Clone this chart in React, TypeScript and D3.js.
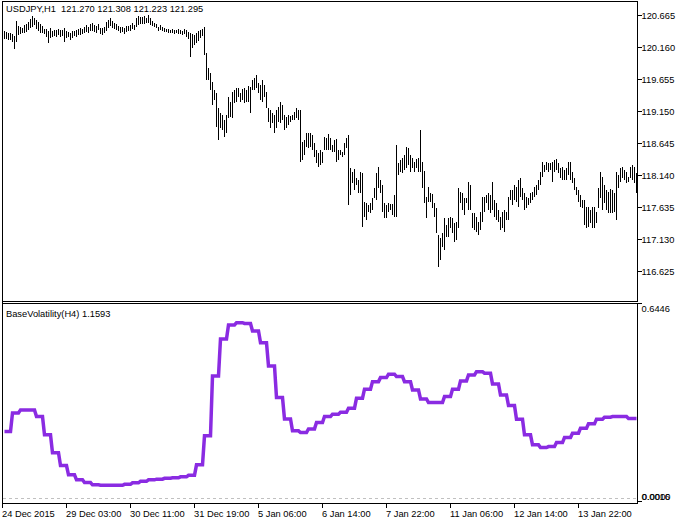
import * as d3 from "d3";

const W = 689;
const H = 523;
const PLOT = { left: 2, right: 637, top: 1, priceBottom: 301, volTop: 303, volBottom: 503 };

const SYMBOL_LABEL = "USDJPY,H1  121.270 121.308 121.223 121.295";
const INDICATOR_LABEL = "BaseVolatility(H4) 1.1593";

// H1 bar highs / lows
const HIGH = [
  120.41, 120.40, 120.38, 120.38, 120.37, 120.33, 120.57, 120.49, 120.48, 120.46,
  120.51, 120.52, 120.55, 120.60, 120.65, 120.62, 120.59, 120.55, 120.52, 120.49,
  120.44, 120.44, 120.41, 120.46, 120.41, 120.43, 120.43, 120.44, 120.43, 120.43,
  120.46, 120.41, 120.40, 120.38, 120.41, 120.41, 120.43, 120.44, 120.46, 120.44,
  120.48, 120.51, 120.48, 120.52, 120.54, 120.51, 120.49, 120.52, 120.46, 120.46,
  120.48, 120.55, 120.59, 120.62, 120.57, 120.54, 120.52, 120.49, 120.48, 120.48,
  120.46, 120.49, 120.49, 120.51, 120.54, 120.51, 120.62, 120.65, 120.63, 120.63,
  120.65, 120.62, 120.66, 120.62, 120.57, 120.54, 120.52, 120.48, 120.51, 120.48,
  120.46, 120.44, 120.44, 120.43, 120.44, 120.43, 120.43, 120.44, 120.43, 120.41,
  120.44, 120.43, 120.40, 120.38, 120.37, 120.35, 120.38, 120.41, 120.43, 120.44,
  120.48, 120.07, 119.83, 119.75, 119.61, 119.48, 119.43, 119.20, 119.12, 119.09,
  119.01, 119.09, 119.37, 119.29, 119.45, 119.48, 119.51, 119.51, 119.43, 119.50,
  119.51, 119.48, 119.55, 119.53, 119.64, 119.67, 119.72, 119.59, 119.56, 119.64,
  119.56, 119.45, 119.20, 119.17, 119.12, 119.09, 119.17, 119.21, 119.29, 119.25,
  119.09, 119.06, 119.09, 119.07, 119.09, 119.13, 119.20, 119.17, 119.17, 118.66,
  118.69, 118.80, 118.80, 118.80, 118.77, 118.65, 118.54, 118.49, 118.54, 118.50,
  118.74, 118.72, 118.79, 118.72, 118.61, 118.69, 118.71, 118.54, 118.54, 118.50,
  118.65, 118.72, 118.77, 118.25, 118.19, 118.24, 118.09, 118.06, 118.19, 118.17,
  117.71, 117.70, 117.67, 117.70, 117.78, 117.94, 118.17, 118.27, 118.06, 117.98,
  117.70, 117.67, 117.70, 117.68, 117.68, 117.83, 118.61, 118.33, 118.38, 118.41,
  118.46, 118.58, 118.57, 118.46, 118.41, 118.35, 118.39, 118.41, 118.85, 118.35,
  118.20, 117.79, 117.95, 117.86, 117.84, 117.70, 117.62, 117.19, 117.15, 117.23,
  117.46, 117.35, 117.46, 117.48, 117.46, 117.38, 117.40, 117.94, 117.87, 117.86,
  117.78, 117.78, 118.03, 117.98, 117.54, 117.54, 117.48, 117.40, 117.56, 117.79,
  117.79, 117.83, 117.86, 117.83, 118.03, 117.75, 117.70, 117.59, 117.48, 117.56,
  117.59, 117.56, 117.79, 117.90, 117.90, 117.98, 117.95, 118.06, 118.09, 117.94,
  117.86, 117.79, 117.78, 117.86, 117.87, 117.95, 117.98, 118.06, 118.19, 118.35,
  118.30, 118.35, 118.33, 118.33, 118.35, 118.38, 118.39, 118.33, 118.25, 118.27,
  118.22, 118.25, 118.35, 118.35, 118.19, 118.09, 117.95, 117.90, 117.83, 117.75,
  117.75, 117.64, 117.64, 117.59, 117.64, 117.64, 117.56, 117.94, 118.19, 118.11,
  117.98, 117.90, 117.87, 117.92, 117.90, 117.86, 118.19, 118.14, 118.25, 118.27,
  118.22, 118.19, 118.11, 118.27, 118.30, 118.27, 118.17,
];

const LOW = [
  120.29, 120.29, 120.27, 120.27, 120.24, 120.13, 120.24, 120.35, 120.37, 120.38,
  120.38, 120.40, 120.43, 120.46, 120.48, 120.51, 120.44, 120.41, 120.38, 120.38,
  120.37, 120.32, 120.22, 120.30, 120.32, 120.33, 120.32, 120.35, 120.32, 120.33,
  120.24, 120.30, 120.32, 120.27, 120.30, 120.33, 120.32, 120.35, 120.35, 120.37,
  120.38, 120.40, 120.38, 120.41, 120.41, 120.40, 120.38, 120.43, 120.37, 120.35,
  120.38, 120.41, 120.46, 120.49, 120.46, 120.44, 120.43, 120.41, 120.38, 120.40,
  120.37, 120.40, 120.41, 120.41, 120.44, 120.43, 120.48, 120.51, 120.52, 120.52,
  120.52, 120.54, 120.54, 120.51, 120.49, 120.48, 120.46, 120.41, 120.43, 120.41,
  120.40, 120.40, 120.38, 120.38, 120.38, 120.37, 120.38, 120.37, 120.37, 120.35,
  120.37, 120.32, 120.29, 120.00, 120.14, 120.19, 120.22, 120.26, 120.30, 120.33,
  120.03, 119.64, 119.64, 119.48, 119.25, 119.32, 118.90, 118.69, 118.88, 118.85,
  118.74, 118.80, 119.04, 119.06, 119.04, 119.28, 119.29, 119.37, 119.29, 119.32,
  119.28, 119.29, 119.29, 119.12, 119.48, 119.48, 119.51, 119.43, 119.32, 119.29,
  119.37, 119.20, 118.98, 118.88, 118.96, 118.80, 118.88, 118.98, 118.96, 119.01,
  118.85, 118.88, 118.93, 118.98, 119.01, 119.01, 119.04, 119.01, 118.35, 118.38,
  118.46, 118.58, 118.57, 118.58, 118.54, 118.42, 118.33, 118.27, 118.30, 118.33,
  118.54, 118.54, 118.54, 118.54, 118.50, 118.50, 118.35, 118.38, 118.46, 118.42,
  118.46, 118.57, 117.67, 117.83, 118.01, 117.90, 117.98, 117.86, 117.86, 117.32,
  117.48, 117.43, 117.56, 117.54, 117.59, 117.78, 117.75, 117.94, 117.86, 117.56,
  117.46, 117.46, 117.56, 117.59, 117.51, 117.48, 117.48, 118.14, 118.19, 118.17,
  118.22, 118.25, 118.30, 118.19, 118.25, 118.19, 118.25, 118.19, 118.19, 117.94,
  117.70, 117.46, 117.71, 117.71, 117.62, 117.48, 117.23, 116.69, 116.80, 117.00,
  116.96, 117.16, 117.16, 117.30, 117.23, 117.08, 117.12, 117.30, 117.70, 117.59,
  117.51, 117.70, 117.59, 117.59, 117.30, 117.27, 117.24, 117.19, 117.27, 117.40,
  117.56, 117.70, 117.59, 117.54, 117.59, 117.48, 117.43, 117.40, 117.27, 117.30,
  117.24, 117.43, 117.43, 117.75, 117.67, 117.75, 117.71, 117.64, 117.79, 117.75,
  117.59, 117.62, 117.67, 117.70, 117.75, 117.79, 117.83, 117.90, 117.98, 118.11,
  118.19, 118.22, 118.19, 118.22, 118.03, 118.19, 118.22, 118.17, 118.09, 118.06,
  118.06, 118.06, 118.14, 118.06, 118.01, 117.90, 117.83, 117.71, 117.64, 117.62,
  117.35, 117.30, 117.32, 117.38, 117.30, 117.30, 117.38, 117.62, 117.78, 117.59,
  117.70, 117.59, 117.54, 117.54, 117.54, 117.56, 117.43, 117.94, 118.03, 118.09,
  118.06, 118.01, 118.03, 118.09, 118.06, 118.01, 117.86,
];

// H4 volatility, one value per 4 H1 bars
const VOL_H4 = [
  0.2196, 0.2819, 0.2919, 0.2919, 0.2696, 0.2087, 0.1488, 0.1065, 0.0755, 0.0589,
  0.0499, 0.0423, 0.0406, 0.0406, 0.0406, 0.0439, 0.0489, 0.0539, 0.0589, 0.0612,
  0.0639, 0.0656, 0.0689, 0.0739, 0.1088, 0.2053, 0.4050, 0.5282, 0.5747, 0.5824,
  0.5797, 0.5548, 0.5158, 0.4383, 0.3328, 0.2619, 0.2220, 0.2163, 0.2286, 0.2496,
  0.2696, 0.2776, 0.2842, 0.2975, 0.3308, 0.3608, 0.3860, 0.3994, 0.4107, 0.4027,
  0.3860, 0.3584, 0.3285, 0.3162, 0.3162, 0.3361, 0.3608, 0.3884, 0.4083, 0.4193,
  0.4140, 0.3784, 0.3418, 0.3062, 0.2609, 0.2087, 0.1754, 0.1664, 0.1697, 0.1830,
  0.1997, 0.2143, 0.2310, 0.2453, 0.2609, 0.2676, 0.2696, 0.2696, 0.2629, 0.2629,
];

const PRICE_TICKS = ["120.665", "120.160", "119.655", "119.150", "118.645", "118.140", "117.635", "117.130", "116.625"];
const VOL_MAX_LABEL = "0.6446";
const VOL_MIN_LABELS = ["0.0016", "0.0000"];

const TIME_LABELS = [
  "24 Dec 2015", "29 Dec 03:00", "30 Dec 11:00", "31 Dec 19:00", "5 Jan 06:00",
  "6 Jan 14:00", "7 Jan 22:00", "11 Jan 06:00", "12 Jan 14:00", "13 Jan 22:00",
];
const TIME_LABEL_BARS = [-1, 31, 63, 95, 127, 159, 191, 223, 255, 287];

const FONT = "'Liberation Sans', Arial, sans-serif";
const PURPLE = "#8a2be2";

export default function App() {
  const x = d3.scaleLinear().domain([0, HIGH.length - 1]).range([4, 4 + 2 * (HIGH.length - 1)]);
  const y = d3.scaleLinear().domain([116.625, 120.665]).range([271, 15]);
  const v = d3.scaleLinear().domain([0, 0.6446]).range([497.5, 304]);

  const volBars = HIGH.map((_, i) => VOL_H4[Math.floor(i / 4)]);
  const volLine = d3
    .line<number>()
    .x((_, i) => x(i) + 0.5)
    .y((d) => v(d))
    .curve(d3.curveLinear);

  const R = PLOT.right + 0.5;
  const L = PLOT.left + 0.5;

  return (
    <div style={{ position: "fixed", left: 0, top: 0, width: W, height: H, background: "#fff" }}>
      <svg width={W} height={H} style={{ display: "block" }} fontFamily={FONT} fontSize={9.3}>
        <rect x={0} y={0} width={W} height={H} fill="#fff" />

        {/* frames */}
        <g stroke="#000" strokeWidth={1} shapeRendering="crispEdges">
          <line x1={L} x2={R} y1={PLOT.top + 0.5} y2={PLOT.top + 0.5} />
          <line x1={L} x2={L} y1={PLOT.top} y2={PLOT.volBottom + 5} />
          <line x1={R} x2={R} y1={PLOT.top} y2={PLOT.priceBottom + 0.5} />
          <line x1={L} x2={R} y1={PLOT.priceBottom + 0.5} y2={PLOT.priceBottom + 0.5} />
          <line x1={L} x2={R} y1={PLOT.volTop + 0.5} y2={PLOT.volTop + 0.5} />
          <line x1={R} x2={R} y1={PLOT.volTop} y2={PLOT.volBottom + 0.5} />
          <line x1={L} x2={R} y1={PLOT.volBottom + 0.5} y2={PLOT.volBottom + 0.5} />
        </g>

        {/* price bars */}
        <g stroke="#000" strokeWidth={1} shapeRendering="crispEdges">
          {HIGH.map((hi, i) => {
            const y1 = y(hi);
            const y2 = Math.max(y(LOW[i]), y1 + 1);
            return <line key={i} x1={x(i) + 0.5} x2={x(i) + 0.5} y1={y1} y2={y2} />;
          })}
        </g>

        {/* price axis */}
        {PRICE_TICKS.map((t) => {
          const ty = Math.round(y(+t)) + 0.5;
          return (
            <g key={t}>
              <line x1={R} x2={R + 4} y1={ty} y2={ty} stroke="#000" shapeRendering="crispEdges" />
              <text x={R + 4} y={ty} dy="0.35em" fill="#000">
                {t}
              </text>
            </g>
          );
        })}

        {/* volatility */}
        <line
          x1={L}
          x2={R}
          y1={Math.round(v(0)) + 0.5}
          y2={Math.round(v(0)) + 0.5}
          stroke="#c0c0c0"
          strokeDasharray="3,3"
          shapeRendering="crispEdges"
        />
        <path d={volLine(volBars) ?? ""} fill="none" stroke={PURPLE} strokeWidth={3.5} strokeLinejoin="miter" />

        <line x1={R} x2={R + 4} y1={PLOT.volTop + 0.5} y2={PLOT.volTop + 0.5} stroke="#000" shapeRendering="crispEdges" />
        <text x={R + 4} y={v(0.6446) + 5} dy="0.35em" fill="#000">
          {VOL_MAX_LABEL}
        </text>
        <line x1={R} x2={R + 4} y1={PLOT.volBottom - 1.5} y2={PLOT.volBottom - 1.5} stroke="#000" shapeRendering="crispEdges" />
        {VOL_MIN_LABELS.map((t, i) => (
          <text key={t} x={R + 4 + i * 0.6} y={v(0) - 1} dy="0.35em" fill="#000">
            {t}
          </text>
        ))}

        {/* time axis */}
        {TIME_LABELS.map((t, i) => {
          const tx = Math.round(x(TIME_LABEL_BARS[i])) + 0.5;
          return (
            <g key={t}>
              <line x1={tx} x2={tx} y1={PLOT.volBottom} y2={PLOT.volBottom + 5} stroke="#000" shapeRendering="crispEdges" />
              <text x={tx - 0.5} y={PLOT.volBottom + 14} fill="#000">
                {t}
              </text>
            </g>
          );
        })}

        <text x={6} y={12} fill="#000">
          {SYMBOL_LABEL.split("  ").join("\u00a0\u00a0")}
        </text>
        <text x={6} y={317} fill="#000">
          {INDICATOR_LABEL}
        </text>
      </svg>
    </div>
  );
}
